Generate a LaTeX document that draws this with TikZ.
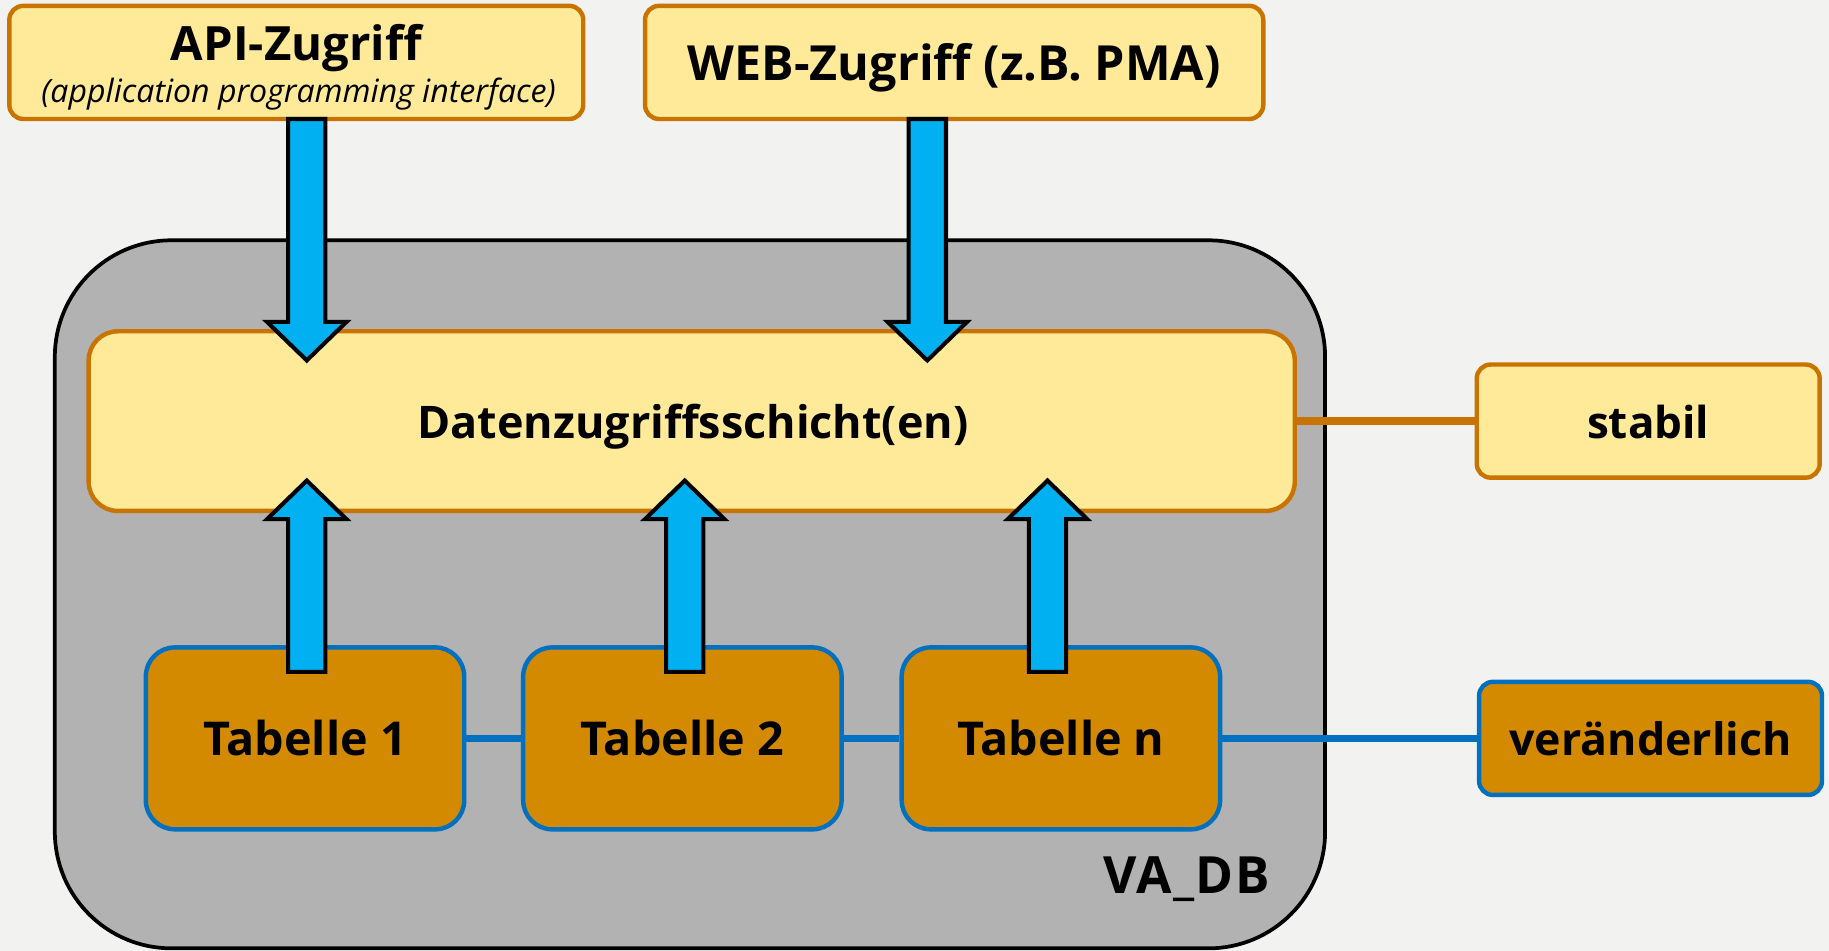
\documentclass[tikz,border=0pt]{standalone}
\usepackage{fontspec}
\setmainfont{Open Sans}
\usetikzlibrary{calc}
\definecolor{bgc}{HTML}{F2F2F0}
\definecolor{grayc}{HTML}{B2B2B2}
\definecolor{yelc}{HTML}{FFEA9A}
\definecolor{orc}{HTML}{C97300}
\definecolor{tabc}{HTML}{D48A00}
\definecolor{bluc}{HTML}{0070C0}
\definecolor{arrc}{HTML}{00B0F0}
\newcommand\bigfont[1]{\fontsize{#1}{45}\bfseries\selectfont}
\newcommand\smallfont{\fontsize{27.5}{32}\itshape\selectfont}
\newcommand\darrowblk[2]{%
  \draw[barrow] ($(#1)+(-16,0)$) -- ($(#2)+(-16,-33)$) -- ($(#2)+(-34,-33)$) -- (#2)
    -- ($(#2)+(34,-33)$) -- ($(#2)+(16,-33)$) -- ($(#1)+(16,0)$) -- cycle;}
\newcommand\uarrowblk[2]{%
  \draw[barrow] ($(#1)+(-16,0)$) -- ($(#2)+(-16,33)$) -- ($(#2)+(-34,33)$) -- (#2)
    -- ($(#2)+(34,33)$) -- ($(#2)+(16,33)$) -- ($(#1)+(16,0)$) -- cycle;}
\tikzset{
  ybox/.style={draw=orc, fill=yelc, line width=3.8pt, rounded corners=12pt, inner sep=0pt},
  tbox/.style={draw=bluc, fill=tabc, line width=3.8pt, rounded corners=25pt, inner sep=0pt,
    minimum width=273pt, minimum height=156pt},
  vabox/.style={draw=black, fill=grayc, line width=3.2pt, rounded corners=100pt, inner sep=0pt},
  barrow/.style={draw=black, fill=arrc, line width=3.5pt, miter limit=10},
  oline/.style={draw=orc, line width=6.5pt},
  bline/.style={draw=bluc, line width=6.5pt},
  lbl/.style={anchor=base, inner sep=0pt, font=\bigfont{#1}},
  lbl/.default=38.5,
}
\begin{document}
\begin{tikzpicture}[x=1pt, y=-1pt]
\fill[bgc] (0,0) rectangle (1568,815);
\useasboundingbox (0,0) rectangle (1568,815);
% outer VA_DB container
\node[vabox, minimum width=1089pt, minimum height=607pt] (va) at (591.5,509.5) {};
\node[lbl=44, anchor=base east] (valbl) at (1089,766) {\addfontfeatures{LetterSpace=3}VA\_DB};
% top boxes
\node[ybox, minimum width=492pt, minimum height=97pt] (api) at (254,53.5) {};
\node[lbl=40.5] (apit) at (254,52) {API-Zugriff};
\node[anchor=base, inner sep=0pt, font=\smallfont] (apis) at (256,88) {(application programming interface)};
\node[ybox, minimum width=530pt, minimum height=97pt] (web) at (818,53.5) {};
\node[lbl=41.5] (webt) at (818,69) {WEB-Zugriff (z.B. PMA)};
% data access layer
\node[ybox, rounded corners=25pt, minimum width=1034pt, minimum height=154pt] (dz) at (593,361) {};
\node[lbl=38.5] (dzt) at (594,376) {Datenzugriffsschicht(en)};
% stable
\node[ybox, minimum width=294pt, minimum height=97pt] (stab) at (1413,361) {};
\node[lbl=37.7] (stabt) at (1413,376) {stabil};
% tables
\node[tbox] (t1) at (261.5,633) {};
\node[lbl=40] (t1t) at (261.5,648) {Tabelle 1};
\node[tbox] (t2) at (585,633) {};
\node[lbl=40] (t2t) at (585,648) {Tabelle 2};
\node[tbox] (tn) at (909.5,633) {};
\node[lbl=40] (tnt) at (909.5,648) {Tabelle n};
\node[tbox, rounded corners=12pt, minimum width=294pt, minimum height=97pt] (var) at (1415,633) {};
\node[lbl=38.3] (vart) at (1415,648) {veränderlich};
% connectors
\draw[oline] (dz.east) -- (stab.west);
\draw[bline] (t1.east) -- (t2.west);
\draw[bline] (t2.east) -- (tn.west);
\draw[bline] (tn.east) -- (var.west);
% arrows
\coordinate (a1s) at (263,102); \coordinate (a1e) at (263,309);
\coordinate (a2s) at (795,102); \coordinate (a2e) at (795,309);
\coordinate (u1s) at (263,576); \coordinate (u1e) at (263,412);
\coordinate (u2s) at (587,576); \coordinate (u2e) at (587,412);
\coordinate (u3s) at (898,576); \coordinate (u3e) at (898,412);
\darrowblk{a1s}{a1e}
\darrowblk{a2s}{a2e}
\uarrowblk{u1s}{u1e}
\uarrowblk{u2s}{u2e}
\uarrowblk{u3s}{u3e}
\end{tikzpicture}
\end{document}
